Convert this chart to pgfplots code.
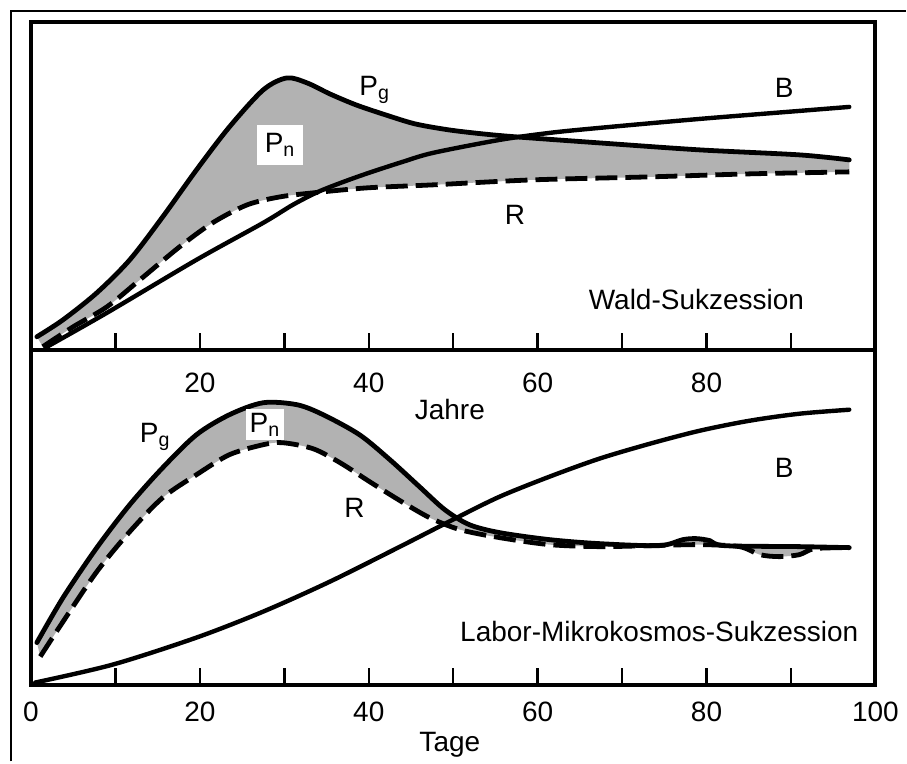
\documentclass[border=0pt]{standalone}
\usepackage{pgfplots}
\pgfplotsset{compat=1.18}
\usepgfplotslibrary{fillbetween}
\usepackage{fontspec}
\setmainfont{Liberation Sans}

\pgfplotsset{
  succ/.style={scale only axis, width=422.5pt, anchor=south west,
    xmin=0, xmax=100, ymin=0, clip=false,
    axis line style={line width=2pt},
    ytick=\empty, xtick pos=bottom, tick align=inside,
    major tick length=8.5pt,
    every tick/.style={black, line width=1.2pt},
    tick label style={font=\fontsize{14}{16}\selectfont},
    /pgf/number format/assume math mode=true},
  kurve/.style={black, line width=2.4pt, no marks, smooth, line cap=round, line join=round},
  gestr/.style={kurve, dash pattern=on 11pt off 4pt, line cap=butt},
}
\tikzset{lab/.style={font=\fontsize{14}{16}\selectfont}}

\begin{document}
\begin{tikzpicture}
\path (0,0) rectangle (453.5pt,381pt);
\draw[line width=0.6pt] (5.5pt,0) -- (5.5pt,375.5pt) -- (453.5pt,375.5pt);

% Wald-Sukzession (Jahre)
\begin{axis}[succ, at={(15.5pt,206pt)}, height=164pt, ymax=328,
    xtick={10,20,...,90}, xticklabels={,20,,40,,60,,80,},
    xticklabel style={yshift=-8pt}]
  \addplot[draw=none, name path=pg, smooth] coordinates {
    (0.7,13) (3.8,30) (7.8,57) (11.7,90) (15.6,133) (19.6,180) (23.5,223)
    (27.5,260) (30.3,272) (32.7,267) (35.4,256) (38.5,245) (42.0,235)
    (45.5,226) (49.5,220) (53.5,216) (57.5,213) (67.3,207) (79.2,200)
    (91.0,195) (96.9,190)};
  \addplot[draw=none, name path=r, smooth] coordinates {
    (1.4,3) (5.0,23) (9.0,43) (12.9,70) (17.6,103) (21.5,127) (25.6,145)
    (29.5,153) (33.4,157) (39.8,162) (47.6,165) (59.4,170) (73.3,173)
    (85.1,176) (96.9,178)};
  \addplot[black!30] fill between[of=pg and r];
  \addplot[kurve] coordinates {
    (0.7,13) (3.8,30) (7.8,57) (11.7,90) (15.6,133) (19.6,180) (23.5,223)
    (27.5,260) (30.3,272) (32.7,267) (35.4,256) (38.5,245) (42.0,235)
    (45.5,226) (49.5,220) (53.5,216) (57.5,213) (67.3,207) (79.2,200)
    (91.0,195) (96.9,190)};
  \addplot[gestr] coordinates {
    (1.4,3) (5.0,23) (9.0,43) (12.9,70) (17.6,103) (21.5,127) (25.6,145)
    (29.5,153) (33.4,157) (39.8,162) (47.6,165) (59.4,170) (73.3,173)
    (85.1,176) (96.9,178)};
  \addplot[kurve, line width=2.2pt] coordinates {
    (1.9,3) (9.0,37) (19.6,90) (27.5,127) (31.0,145) (34.0,158) (37.0,168)
    (40.0,177) (44.0,188) (47.6,197) (55.5,210) (61.4,217) (67.3,222)
    (79.2,231) (91.0,239) (96.9,243)};
  \node[lab] at (axis cs:40.7,260) {P\textsubscript{g}};
  \node[lab] at (axis cs:89.2,262) {B};
  \node[lab] at (axis cs:57.3,135) {R};
  \node[lab, fill=white, inner sep=4pt] at (axis cs:29.5,205) {P\textsubscript{n}};
  \node[lab] at (axis cs:78.8,50) {Wald-Sukzession};
  \node[lab] at (axis cs:49.6,0) [yshift=-30pt] {Jahre};
\end{axis}

% Labor-Mikrokosmos-Sukzession (Tage)
\begin{axis}[succ, at={(15.5pt,38.5pt)}, height=167.5pt, ymax=335,
    xtick={0,10,...,100}, xticklabels={0,,20,,40,,60,,80,,100},
    xticklabel style={yshift=-5pt}]
  \addplot[draw=none, name path=pg2, smooth] coordinates {
    (0.7,42) (3.8,87) (7.8,137) (11.7,180) (15.6,217) (19.6,250) (23.5,270)
    (27.5,282) (31.5,280) (34.6,270) (38.9,250) (42.5,225) (46.0,198)
    (49.0,175) (51.9,160) (55.5,152) (61.4,145) (67.3,141) (74.4,139)
    (77.2,145) (78.8,146) (80.4,144) (82.1,139) (91.0,138) (96.9,137)};
  \addplot[draw=none, name path=r2, smooth] coordinates {
    (1.1,28) (3.8,63) (7.8,113) (11.7,153) (15.6,187) (19.6,210) (23.5,230)
    (27.5,240) (29.8,242) (33.4,236) (36.6,222) (40.1,203) (43.7,184)
    (47.2,167) (50.8,155) (55.5,147) (61.4,140) (67.3,138) (73.3,139)
    (79.2,140) (83.9,138) (86.3,130) (88.6,128) (91.0,130) (92.8,136) (96.9,137)};
  \addplot[black!30] fill between[of=pg2 and r2];
  \addplot[kurve] coordinates {
    (0.7,42) (3.8,87) (7.8,137) (11.7,180) (15.6,217) (19.6,250) (23.5,270)
    (27.5,282) (31.5,280) (34.6,270) (38.9,250) (42.5,225) (46.0,198)
    (49.0,175) (51.9,160) (55.5,152) (61.4,145) (67.3,141) (74.4,139)
    (77.2,145) (78.8,146) (80.4,144) (82.1,139) (91.0,138) (96.9,137)};
  \addplot[gestr] coordinates {
    (1.1,28) (3.8,63) (7.8,113) (11.7,153) (15.6,187) (19.6,210) (23.5,230)
    (27.5,240) (29.8,242) (33.4,236) (36.6,222) (40.1,203) (43.7,184)
    (47.2,167) (50.8,155) (55.5,147) (61.4,140) (67.3,138) (73.3,139)
    (79.2,140) (83.9,138) (86.3,130) (88.6,128) (91.0,130) (92.8,136) (96.9,137)};
  \addplot[kurve, line width=2.2pt] coordinates {
    (0.5,2) (9.7,20) (19.6,47) (27.5,73) (35.4,103) (43.7,138)
    (50.2,166) (55.5,188) (61.4,208) (67.3,226) (73.3,241) (79.2,254)
    (85.1,264) (91.0,271) (96.9,275)};
  \node[lab] at (axis cs:14.7,248) {P\textsubscript{g}};
  \node[lab, fill=white, inner sep=2pt] at (axis cs:27.7,260) {P\textsubscript{n}};
  \node[lab] at (axis cs:38.3,177) {R};
  \node[lab] at (axis cs:89.2,217) {B};
  \node[lab] at (axis cs:74.4,53) {Labor-Mikrokosmos-Sukzession};
  \node[lab] at (axis cs:49.6,0) [yshift=-30pt] {Tage};
\end{axis}
\end{tikzpicture}
\end{document}
